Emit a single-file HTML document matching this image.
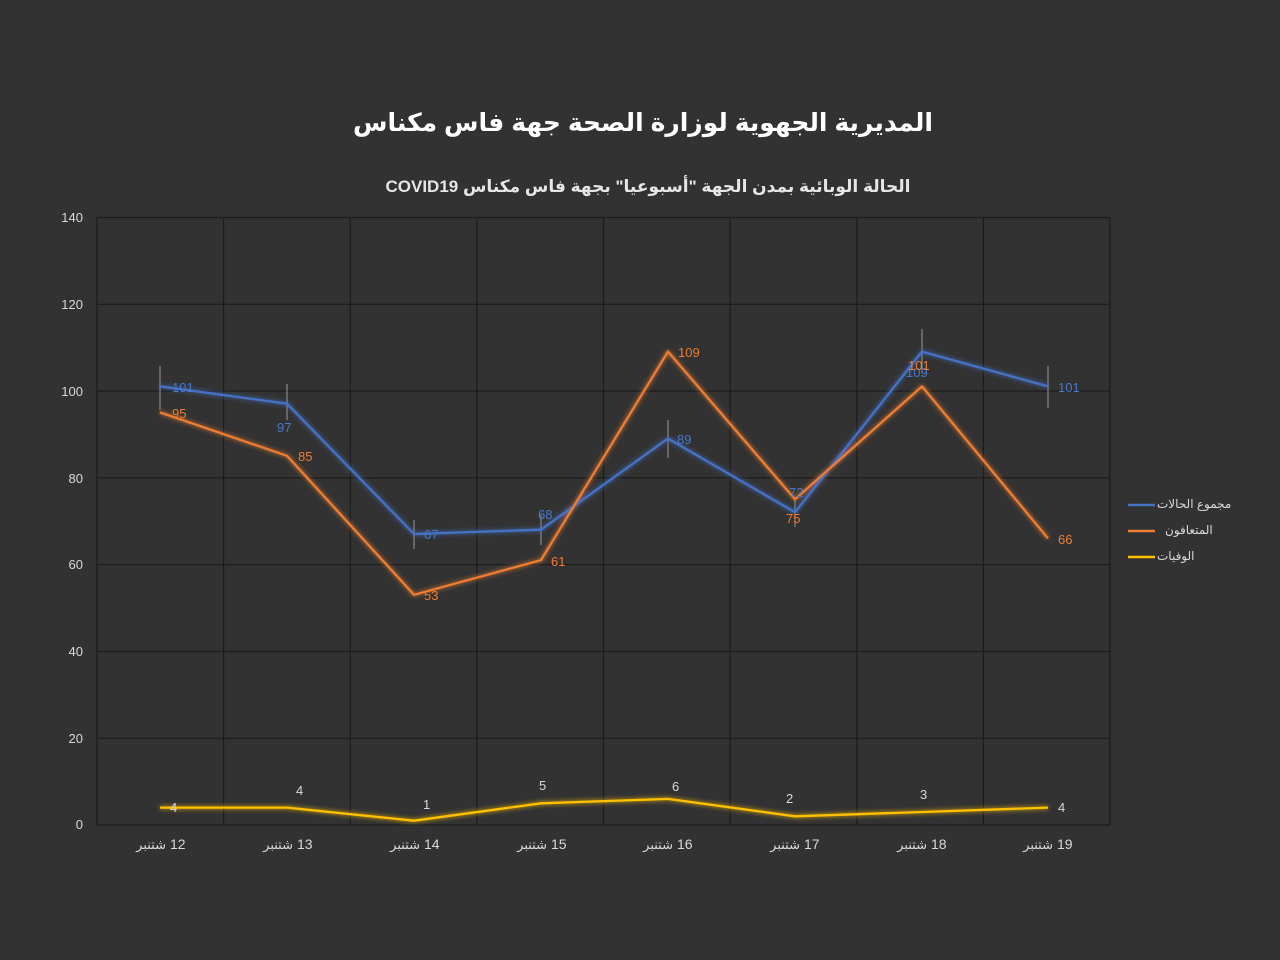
<!DOCTYPE html>
<html><head><meta charset="utf-8"><style>
body{margin:0;background:#323232;}
svg{display:block}
text{font-family:"Liberation Sans","DejaVu Sans",sans-serif}
</style></head><body>
<svg width="1280" height="960" xmlns="http://www.w3.org/2000/svg">
<defs>
<filter id="g" x="-10%" y="-10%" width="120%" height="120%"><feGaussianBlur stdDeviation="2.5" result="b"/><feMerge><feMergeNode in="b"/><feMergeNode in="SourceGraphic"/></feMerge></filter>
</defs>
<rect width="1280" height="960" fill="#323232"/>
<text x="643" y="131" text-anchor="middle" font-size="25" font-weight="bold" fill="#fff" font-family="'DejaVu Sans',sans-serif" direction="rtl">المديرية الجهوية لوزارة الصحة جهة فاس مكناس</text>
<text x="648" y="192" text-anchor="middle" font-size="17" font-weight="bold" fill="#e6e6e6" font-family="'DejaVu Sans',sans-serif" direction="rtl">الحالة الوبائية بمدن الجهة "أسبوعيا" بجهة فاس مكناس COVID19</text>
<g stroke="#1c1c1c" stroke-width="1.2">
<line x1="97" y1="217.5" x2="1110" y2="217.5"/><line x1="97" y1="304.3" x2="1110" y2="304.3"/><line x1="97" y1="391.1" x2="1110" y2="391.1"/><line x1="97" y1="477.9" x2="1110" y2="477.9"/><line x1="97" y1="564.7" x2="1110" y2="564.7"/><line x1="97" y1="651.5" x2="1110" y2="651.5"/><line x1="97" y1="738.3" x2="1110" y2="738.3"/><line x1="97" y1="825" x2="1110" y2="825"/>
<line x1="97" y1="217" x2="97" y2="825"/><line x1="223.6" y1="217" x2="223.6" y2="825"/><line x1="350.2" y1="217" x2="350.2" y2="825"/><line x1="476.9" y1="217" x2="476.9" y2="825"/><line x1="603.5" y1="217" x2="603.5" y2="825"/><line x1="730.1" y1="217" x2="730.1" y2="825"/><line x1="856.8" y1="217" x2="856.8" y2="825"/><line x1="983.4" y1="217" x2="983.4" y2="825"/><line x1="1110" y1="217" x2="1110" y2="825"/>
</g>
<g font-size="13" fill="#d9d9d9" text-anchor="end">
<text x="83" y="222">140</text><text x="83" y="309">120</text><text x="83" y="396">100</text><text x="83" y="483">80</text><text x="83" y="569">60</text><text x="83" y="656">40</text><text x="83" y="743">20</text><text x="83" y="829">0</text>
</g>
<g font-size="13" fill="#d9d9d9" text-anchor="end" font-family="'DejaVu Sans',sans-serif">
<text x="166" y="849">شتنبر</text><text x="293" y="849">شتنبر</text><text x="420" y="849">شتنبر</text><text x="547" y="849">شتنبر</text><text x="673" y="849">شتنبر</text><text x="800" y="849">شتنبر</text><text x="927" y="849">شتنبر</text><text x="1053" y="849">شتنبر</text>
</g>
<g font-size="14" fill="#d9d9d9">
<text x="170" y="849">12</text><text x="297" y="849">13</text><text x="424" y="849">14</text><text x="551" y="849">15</text><text x="677" y="849">16</text><text x="804" y="849">17</text><text x="931" y="849">18</text><text x="1057" y="849">19</text>
</g>
<g stroke="#999" stroke-width="1">
<line x1="160" y1="366" x2="160" y2="410"/><line x1="287" y1="384" x2="287" y2="420"/><line x1="414" y1="520" x2="414" y2="549"/><line x1="541" y1="515" x2="541" y2="545"/><line x1="668" y1="420" x2="668" y2="458"/><line x1="795" y1="500" x2="795" y2="527"/><line x1="922" y1="329" x2="922" y2="373"/><line x1="1048" y1="366" x2="1048" y2="408"/>
</g>
<g fill="none" stroke-width="2.3" filter="url(#g)" stroke-linejoin="round">
<polyline stroke="#4472c4" points="160,386.4 287,403.7 414,534 541,529.7 668,438.5 795,512.3 922,351.6 1048,386.4"/>
<polyline stroke="#ed7d31" points="160,412.4 287,455.8 414,594.8 541,560.1 668,351.6 795,499.3 922,386.4 1048,538.4"/>
<polyline stroke="#ffc000" points="160,807.6 287,807.6 414,820.7 541,803.3 668,798.9 795,816.3 922,812 1048,807.6"/>
</g>
<g font-size="13" fill="#4a78cc">
<text x="172" y="392">101</text><text x="277" y="432">97</text><text x="424" y="539">67</text><text x="538" y="519">68</text><text x="677" y="444">89</text><text x="789" y="497">72</text><text x="906" y="377">109</text><text x="1058" y="392">101</text>
</g>
<g font-size="13" fill="#ed7d31">
<text x="172" y="418">95</text><text x="298" y="461">85</text><text x="424" y="600">53</text><text x="551" y="566">61</text><text x="678" y="357">109</text><text x="786" y="523">75</text><text x="908" y="370">101</text><text x="1058" y="544">66</text>
</g>
<g font-size="13" fill="#d9d9d9">
<text x="170" y="812">4</text><text x="296" y="795">4</text><text x="423" y="809">1</text><text x="539" y="790">5</text><text x="672" y="791">6</text><text x="786" y="803">2</text><text x="920" y="799">3</text><text x="1058" y="812">4</text>
</g>
<g stroke-width="2.5">
<line x1="1128" y1="505" x2="1155" y2="505" stroke="#4472c4"/>
<line x1="1128" y1="531" x2="1155" y2="531" stroke="#ed7d31"/>
<line x1="1128" y1="557" x2="1155" y2="557" stroke="#ffc000"/>
</g>
<g font-size="12" fill="#d9d9d9" font-family="'DejaVu Sans',sans-serif">
<text x="1157" y="508">مجموع الحالات</text><text x="1165" y="534">المتعافون</text><text x="1157" y="560">الوفيات</text>
</g>
</svg>
</body></html>
